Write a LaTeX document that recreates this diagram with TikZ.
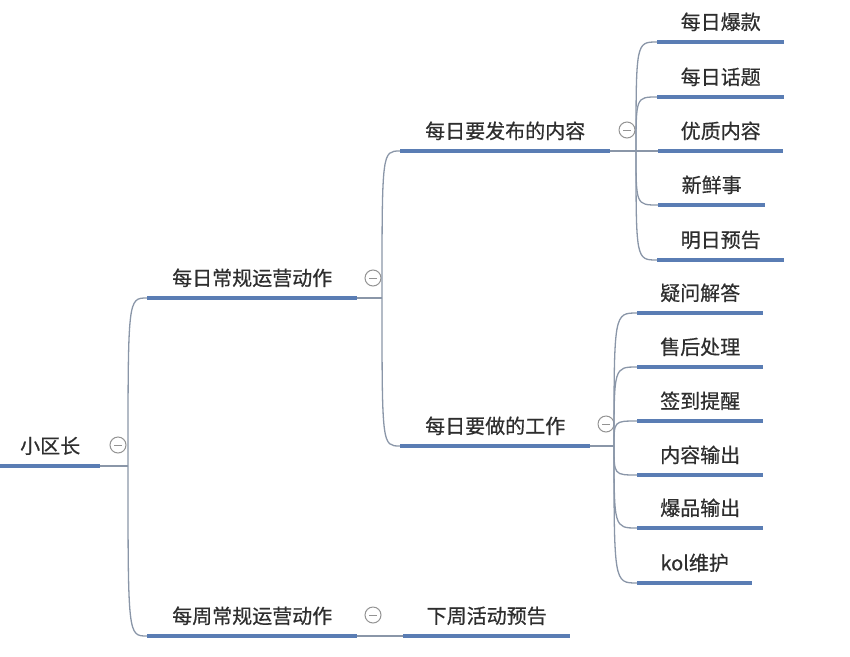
\documentclass[tikz,border=0pt]{standalone}
\usepackage{fontspec}
\setmainfont[FakeBold=0.6]{Noto Sans CJK SC}
\usepackage{xcolor}
\usepackage{tikz}
\definecolor{lineblue}{HTML}{5A7DB4}
\definecolor{linkgray}{HTML}{8A96A8}
\definecolor{textgray}{HTML}{2E2E2E}

\begin{document}
\begin{tikzpicture}[x=1pt, y=-1pt,
    topic/.style={anchor=south west, inner sep=0pt, minimum height=40pt, font=\fontsize{20}{22}\selectfont, text=textgray},
    uline/.style={lineblue, line width=4pt},
    link/.style={linkgray, line width=1.3pt},
    fold/.style={circle, draw=gray!85, line width=1pt, minimum size=16pt, inner sep=0pt,
      path picture={\draw[gray!85, line width=1pt] ([xshift=4pt]path picture bounding box.west) -- ([xshift=-4pt]path picture bounding box.east);}}]
  \useasboundingbox (0,0) rectangle (850,656);
  % topics
  \node[topic, minimum width=100pt] (root) at (0,466) {小区长};
  \node[topic, minimum width=210pt] (daily) at (147,298) {每日常规运营动作};
  \node[topic, minimum width=210pt] (weekly) at (147,636) {每周常规运营动作};
  \node[topic, minimum width=210pt] (publish) at (400,151) {每日要发布的内容};
  \node[topic, minimum width=190pt] (work) at (400,446) {每日要做的工作};
  \node[topic, minimum width=167pt] (nextweek) at (403,636) {下周活动预告};
  \node[topic, minimum width=127pt] (hot) at (657,42) {每日爆款};
  \node[topic, minimum width=127pt] (talk) at (657,97) {每日话题};
  \node[topic, minimum width=125pt] (quality) at (658,151) {优质内容};
  \node[topic, minimum width=107pt] (fresh) at (658,205) {新鲜事};
  \node[topic, minimum width=127pt] (preview) at (657,260) {明日预告};
  \node[topic, minimum width=126pt] (qa) at (637,313) {疑问解答};
  \node[topic, minimum width=126pt] (aftersale) at (637,367) {售后处理};
  \node[topic, minimum width=126pt] (checkin) at (637,421) {签到提醒};
  \node[topic, minimum width=126pt] (output) at (637,475) {内容输出};
  \node[topic, minimum width=126pt] (bestseller) at (637,528) {爆品输出};
  \node[topic, minimum width=115pt] (kol) at (637,583) {kol维护};
  % fold buttons and branch points
  \node[fold] (f0) at (118,445) {};
  \node[fold] (f1) at (373,278) {};
  \node[fold] (f2) at (373,615) {};
  \node[fold] (f3) at (627,130) {};
  \node[fold] (f4) at (606,424) {};
  \coordinate (j0) at (128,466);
  \coordinate (j1) at (382,298);
  \coordinate (j3) at (636,151);
  \coordinate (j4) at (614,446);
  % connectors
  \draw[link] (root.south east) -- (j0);
  \foreach \c in {daily,weekly}
    \draw[link] (j0) .. controls (j0 |- \c.south west) .. (\c.south west);
  \draw[link] (daily.south east) -- (j1);
  \foreach \c in {publish,work}
    \draw[link] (j1) .. controls (j1 |- \c.south west) .. (\c.south west);
  \draw[link] (weekly.south east) -- (nextweek.south west);
  \draw[link] (publish.south east) -- (j3);
  \foreach \c in {hot,talk,quality,fresh,preview}
    \draw[link] (j3) .. controls (j3 |- \c.south west) .. (\c.south west);
  \draw[link] (work.south east) -- (j4);
  \foreach \c in {qa,aftersale,checkin,output,bestseller,kol}
    \draw[link] (j4) .. controls (j4 |- \c.south west) .. (\c.south west);
  % underlines
  \foreach \n in {root,daily,weekly,publish,work,nextweek,hot,talk,quality,fresh,preview,qa,aftersale,checkin,output,bestseller,kol}
    \draw[uline] (\n.south west) -- (\n.south east);
\end{tikzpicture}
\end{document}
